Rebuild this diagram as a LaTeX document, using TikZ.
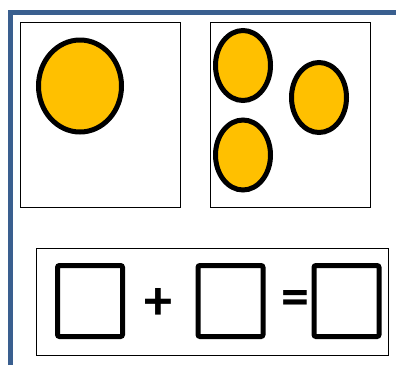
\documentclass[tikz,border=0pt]{standalone}
\usepackage{fontspec}
\setmainfont{Carlito}
\usetikzlibrary{shapes.geometric}

\definecolor{framefg}{RGB}{58,95,143}
\definecolor{coin}{RGB}{255,192,0}

\begin{document}
\begin{tikzpicture}[
  x=1pt, y=-1pt,
  panel/.style={draw, rectangle, line width=0.8pt, inner sep=0pt},
  dot/.style={draw, ellipse, line width=5pt, fill=coin, inner sep=0pt, minimum width=55pt, minimum height=70pt},
  slot/.style={draw, rectangle, rounded corners=2pt, line width=5pt, inner sep=0pt, minimum width=65pt, minimum height=71pt},
  sign/.style={inner sep=0pt, font=\fontsize{56}{56}\selectfont\bfseries}
]
  \useasboundingbox (0,0) rectangle (396,365);

  % Frame
  \draw[framefg, line width=5pt] (10.5,365) -- (10.5,12.5) -- (396,12.5);

  % Panels
  \node[panel, minimum width=160pt, minimum height=185pt] (one) at (100,114.5) {};
  \node[panel, minimum width=160pt, minimum height=185pt] (three) at (290,114.5) {};
  \node[panel, minimum width=352pt, minimum height=107pt] (sum) at (212,301.5) {};

  % Dots
  \node[dot, minimum width=83pt, minimum height=92pt] (big) at (80,86) {};
  \node[dot] (dota) at (243,65.5) {};
  \node[dot] (dotb) at (319,97.5) {};
  \node[dot] (dotc) at (243,155) {};

  % Equation
  \node[slot] (first) at (90,301) {};
  \node[slot] (second) at (230.5,301) {};
  \node[slot] (result) at (346.5,301) {};
  \node[sign] (plus) at (158.5,303.5) {+};
  \node[sign] (equals) at (295,302.5) {=};
\end{tikzpicture}
\end{document}
